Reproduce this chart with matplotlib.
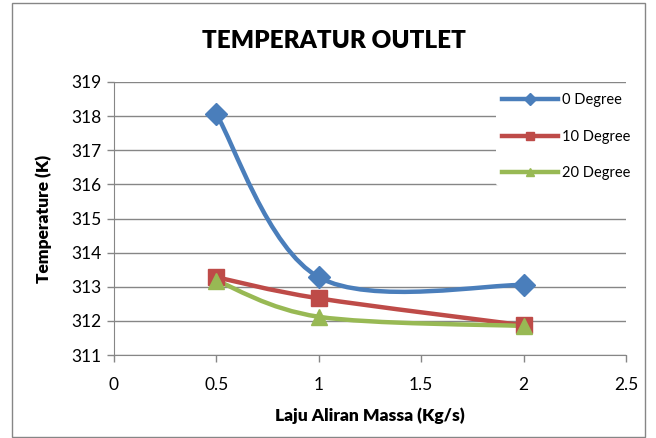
import matplotlib.pyplot as plt
import numpy as np
from matplotlib.path import Path
from matplotlib.patches import PathPatch, Rectangle
from matplotlib.lines import Line2D

plt.rcParams['font.family'] = ['Lato', 'DejaVu Sans']

laju = [0.5, 1.0, 2.0]
temp_0 = [318.05, 313.28, 313.05]
temp_10 = [313.28, 312.66, 311.87]
temp_20 = [313.18, 312.12, 311.85]

series = [
    ('0 Degree', temp_0, '#4A7EBB', 'D', 11),
    ('10 Degree', temp_10, '#BE4B48', 's', 11),
    ('20 Degree', temp_20, '#98B954', '^', 12),
]


def smooth_path(x, y):
    # Excel-like smoothed line: cubic Bezier with Catmull-Rom tangents
    pts = np.column_stack([x, y])
    n = len(pts)
    verts = [pts[0]]
    codes = [Path.MOVETO]
    for i in range(n - 1):
        p0 = pts[max(i - 1, 0)]
        p1 = pts[i]
        p2 = pts[i + 1]
        p3 = pts[min(i + 2, n - 1)]
        c1 = p1 + (p2 - p0) / 6
        c2 = p2 - (p3 - p1) / 6
        verts += [c1, c2, p2]
        codes += [Path.CURVE4] * 3
    return Path(verts, codes)


fig = plt.figure(figsize=(6.56, 4.38), dpi=100)
fig.patches.append(Rectangle((12 / 656, 1 / 438), 633 / 656, 434 / 438,
                             transform=fig.transFigure, fill=False,
                             edgecolor='#868686', linewidth=1))
ax = fig.add_axes([114 / 656, 1 - 355 / 438, 512 / 656, 273 / 438])

for label, vals, color, marker, ms in series:
    ax.add_patch(PathPatch(smooth_path(laju, vals), fill=False,
                           edgecolor=color, linewidth=3.2, zorder=3,
                           capstyle='round', joinstyle='round'))
    ax.plot(laju, vals, linestyle='none', marker=marker, markersize=ms,
            color=color, zorder=4)

ax.set_xlim(0, 2.5)
ax.set_ylim(311, 319)
ax.set_xticks(np.arange(0, 2.51, 0.5))
ax.set_xticklabels(['0', '0.5', '1', '1.5', '2', '2.5'])
ax.set_yticks(np.arange(311, 319.1, 1))
ax.grid(axis='y', color='#868686', linewidth=1)
ax.set_axisbelow(True)
for s in ['top', 'right']:
    ax.spines[s].set_visible(False)
for s in ['left', 'bottom']:
    ax.spines[s].set_color('#868686')
ax.tick_params(axis='both', direction='out', length=5, color='#868686',
               labelsize=12.5, width=1)
ax.tick_params(axis='x', pad=11)
ax.tick_params(axis='y', pad=4)

fig.text(334 / 656, 1 - 41 / 438, 'TEMPERATUR OUTLET', fontsize=17.5,
         fontweight='heavy', ha='center', va='center')
ax.set_xlabel('Laju Aliran Massa (Kg/s)', fontsize=12.5, fontweight='heavy')
ax.xaxis.set_label_coords(0.5, -(407 - 355) / 273)
ax.set_ylabel('Temperature (K)', fontsize=12.5, fontweight='heavy')
ax.yaxis.set_label_coords(-(114 - 52) / 512, 0.5)

handles = [Line2D([0], [0], color=c, linewidth=3.2, marker=m, markersize=6)
           for _, _, c, m, _ in series]
leg = fig.legend(handles, [s[0] for s in series], loc='upper left',
                 bbox_to_anchor=(489 / 656, 1 - 80 / 438), fontsize=10.5,
                 frameon=True, facecolor='white', edgecolor='none',
                 framealpha=1, handlelength=3.8, labelspacing=1.55,
                 handletextpad=0.3, borderpad=0.4)
leg.set_zorder(5)

fig.savefig('out.png', dpi=100)
